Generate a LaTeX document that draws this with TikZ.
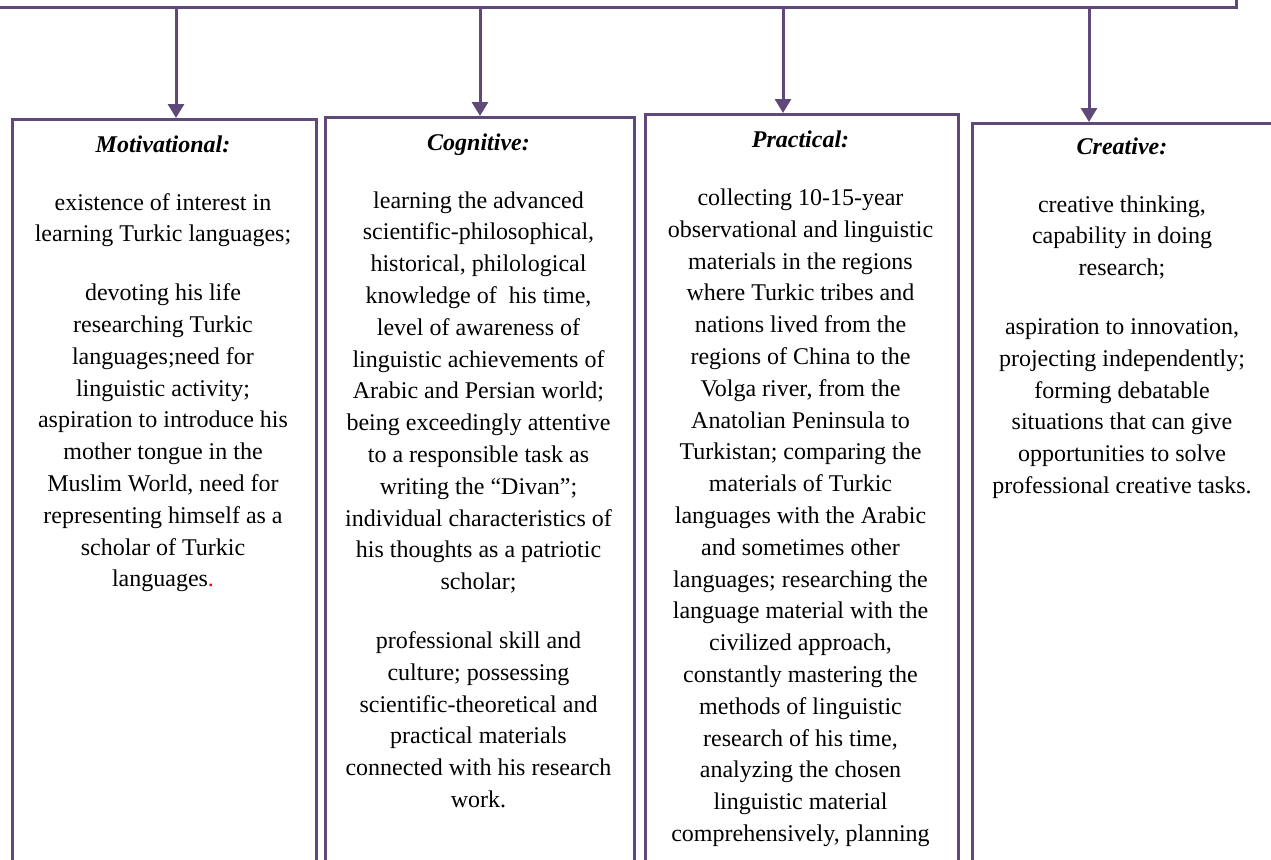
\documentclass[tikz,border=0pt]{standalone}
\usepackage{fontspec}
\setmainfont{Liberation Serif}
\usetikzlibrary{arrows.meta}
\definecolor{frame}{HTML}{5F497A}
\begin{document}
\begin{tikzpicture}[x=1pt,y=-1pt,
  boxframe/.style={draw=frame, line width=2.6pt, rectangle, inner sep=0pt, anchor=north west},
  conn/.style={draw=frame, line width=3pt},
  arr/.style={conn, -{Triangle[width=16pt,length=14pt]}},
  body/.style={inner sep=0pt, anchor=north, align=center, font=\fontsize{24}{31.8}\selectfont},
]
\clip (0,0) rectangle (1271,859);
% boxes
\node[boxframe, minimum width=304pt, minimum height=780pt] (mot) at (11,118) {};
\node[boxframe, minimum width=309pt, minimum height=780pt] (cog) at (324,116) {};
\node[boxframe, minimum width=313pt, minimum height=780pt] (pra) at (644,113) {};
\node[boxframe, minimum width=302pt, minimum height=780pt] (cre) at (971,122) {};
% top line and arrows
\coordinate (L) at (-10,8);
\coordinate (R) at (1236,8);
\coordinate (Rup) at (1236,-10);
\draw[conn] (L) -- (R) -- (Rup);
\coordinate (a1) at (176,8);
\coordinate (a2) at (480,8);
\coordinate (a3) at (783,8);
\coordinate (a4) at (1089,8);
\draw[arr] (a1) -- (a1 |- mot.north);
\draw[arr] (a2) -- (a2 |- cog.north);
\draw[arr] (a3) -- (a3 |- pra.north);
\draw[arr] (a4) -- (a4 |- cre.north);
% texts
\node[body] (motT) at (163,132) {\rule{0pt}{20pt}\textbf{\textit{Motivational:}}\\[26pt]
existence of interest in\\
learning Turkic languages;\\[27pt]
devoting his life\\
researching Turkic\\
languages;need for\\
linguistic activity;\\
aspiration to introduce his\\
mother tongue in the\\
Muslim World, need for\\
representing himself as a\\
scholar of Turkic\\
languages{\color{red}.}};
\node[body] (cogT) at (478.5,130) {\rule{0pt}{20pt}\textbf{\textit{Cognitive:}}\\[26pt]
learning the advanced\\
scientific-philosophical,\\
historical, philological\\
knowledge of\ \ his time,\\
level of awareness of\\
linguistic achievements of\\
Arabic and Persian world;\\
being exceedingly attentive\\
to a responsible task as\\
writing the “Divan”;\\
individual characteristics of\\
his thoughts as a patriotic\\
scholar;\\[27pt]
professional skill and\\
culture; possessing\\
scientific-theoretical and\\
practical materials\\
connected with his research\\
work.};
\node[body] (praT) at (800.5,127.5) {\rule{0pt}{20pt}\textbf{\textit{Practical:}}\\[26pt]
collecting 10-15-year\\
observational and linguistic\\
materials in the regions\\
where Turkic tribes and\\
nations lived from the\\
regions of China to the\\
Volga river, from the\\
Anatolian Peninsula to\\
Turkistan; comparing the\\
materials of Turkic\\
languages with the Arabic\\
and sometimes other\\
languages; researching the\\
language material with the\\
civilized approach,\\
constantly mastering the\\
methods of linguistic\\
research of his time,\\
analyzing the chosen\\
linguistic material\\
comprehensively, planning};
\node[body] (creT) at (1122,134) {\rule{0pt}{20pt}\textbf{\textit{Creative:}}\\[26pt]
creative thinking,\\
capability in doing\\
research;\\[27pt]
aspiration to innovation,\\
projecting independently;\\
forming debatable\\
situations that can give\\
opportunities to solve\\
professional creative tasks.};
\end{tikzpicture}
\end{document}
